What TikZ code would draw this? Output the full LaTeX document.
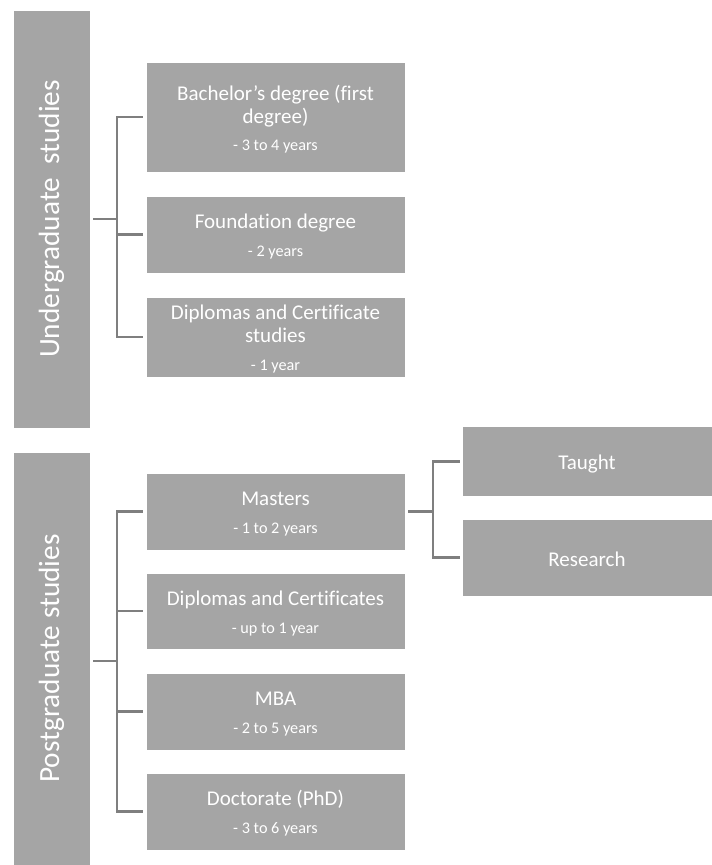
\documentclass[tikz,border=0pt]{standalone}
\usepackage{fontspec}
\setmainfont{Carlito}[Ligatures={NoCommon}]
\usepackage{graphicx}
\definecolor{boxgray}{HTML}{A5A5A5}
\definecolor{linegray}{HTML}{7F7F7F}
\tikzset{
  cat/.style={fill=boxgray, draw=white, line width=0.8pt, inner sep=0pt, text=white,
    minimum width=77pt, font=\fontsize{29.3}{34}\selectfont},
  item/.style={fill=boxgray, draw=white, line width=0.8pt, inner sep=0pt, text=white,
    minimum width=259pt, align=center, font=\fontsize{21}{23}\selectfont},
  sub/.style={fill=boxgray, draw=white, line width=0.8pt, inner sep=0pt, text=white,
    minimum width=250pt, align=center, font=\fontsize{21}{23}\selectfont},
  conn/.style={draw=linegray, line width=2.2pt}
}
\newcommand{\yrs}[1]{{\fontsize{16.2}{18}\selectfont #1}}
\newcommand{\st}{\rule{0pt}{19pt}}
\begin{document}
\begin{tikzpicture}[x=1pt,y=-1pt]
\useasboundingbox (0,0) rectangle (712,865);
% categories
\node[cat, minimum height=418pt] (ug) at (51.5,219) {\rotatebox{90}{Undergraduate\ \ studies}};
\node[cat, minimum height=413pt] (pg) at (51.5,658.5) {\rotatebox{90}{Postgraduate studies}};
% undergraduate items
\node[item, minimum height=110pt] (bach) at (275.5,117) {\st Bachelor{\char"0027}s degree (first\\degree)\\[4pt]\yrs{- 3 to 4 years}};
\node[item, minimum height=77pt] (found) at (275.5,234.5) {\st Foundation degree\\[5pt]\yrs{- 2 years}};
\node[item, minimum height=80pt] (dipug) at (275.5,337) {\st Diplomas and Certificate\\studies\\[5pt]\yrs{- 1 year}};
% postgraduate items
\node[item, minimum height=77pt] (mast) at (275.5,511.5) {\st Masters\\[5pt]\yrs{- 1 to 2 years}};
\node[item, minimum height=76pt] (dipc) at (275.5,611) {\st Diplomas and Certificates\\[5pt]\yrs{- up to 1 year}};
\node[item, minimum height=77pt] (mba) at (275.5,711.5) {\st MBA\\[5pt]\yrs{- 2 to 5 years}};
\node[item, minimum height=77pt] (doc) at (275.5,811.5) {\st Doctorate (PhD)\\[5pt]\yrs{- 3 to 6 years}};
% masters sub items
\node[sub, minimum height=70pt] (taught) at (587,461.5) {\st Taught};
\node[sub, minimum height=77pt] (res) at (587,557.5) {\st Research};
% connectors undergraduate
\coordinate (ugj) at (117,219);
\draw[conn] ([xshift=3pt]ug.east) -- (ugj);
\draw[conn] ([xshift=-3pt]bach.west) -| (ugj) |- ([xshift=-3pt]dipug.west);
\draw[conn] (ugj |- found.west) -- ([xshift=-3pt]found.west);
% connectors postgraduate
\coordinate (pgj) at (117,661);
\path ([xshift=3pt]pg.east) coordinate (pge);
\draw[conn] (pge |- pgj) -- (pgj);
\draw[conn] ([xshift=-3pt]mast.west) -| (pgj) |- ([xshift=-3pt]doc.west);
\draw[conn] (pgj |- dipc.west) -- ([xshift=-3pt]dipc.west);
\draw[conn] (pgj |- mba.west) -- ([xshift=-3pt]mba.west);
% connectors masters
\coordinate (mj) at (433,511.5);
\draw[conn] ([xshift=3pt]mast.east) -- (mj);
\draw[conn] ([xshift=-2pt]taught.west) -| (mj) |- ([xshift=-2pt]res.west);
\end{tikzpicture}
\end{document}
